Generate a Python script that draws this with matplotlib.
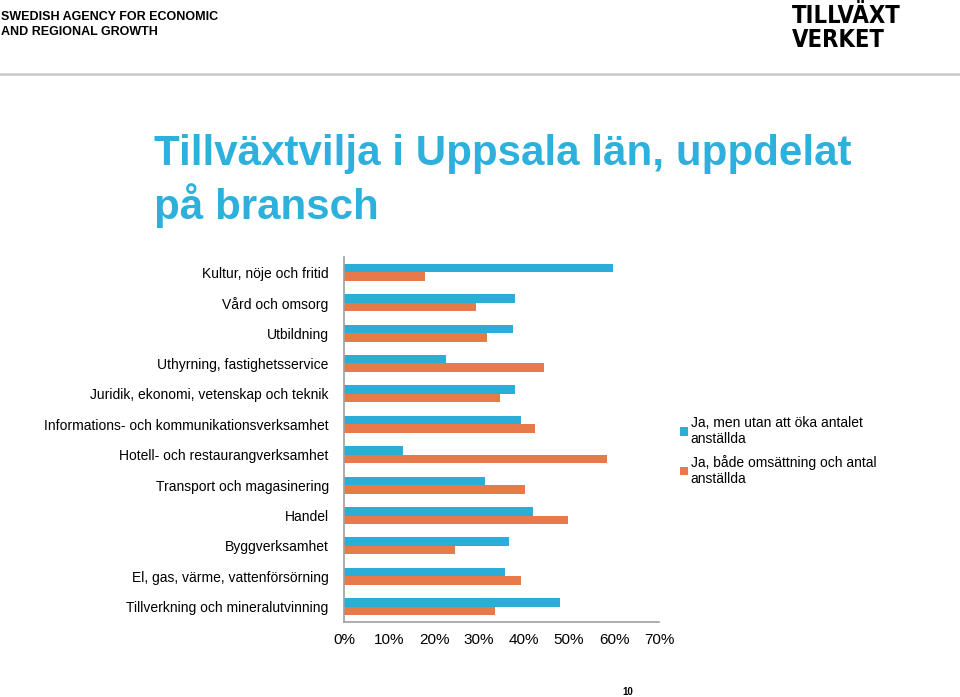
import numpy as np
import matplotlib
matplotlib.use('Agg')
import matplotlib.pyplot as plt
from matplotlib.lines import Line2D

plt.rcParams['font.family'] = ['Liberation Sans', 'DejaVu Sans']

branscher = ["Kultur, nöje och fritid",
             "Vård och omsorg",
             "Utbildning",
             "Uthyrning, fastighetsservice",
             "Juridik, ekonomi, vetenskap och teknik",
             "Informations- och kommunikationsverksamhet",
             "Hotell- och restaurangverksamhet",
             "Transport och magasinering",
             "Handel",
             "Byggverksamhet",
             "El, gas, värme, vattenförsörning",
             "Tillverkning och mineralutvinning"]

utan_anst = [59.8, 38.1, 37.6, 22.7, 38.0, 39.4, 13.0, 31.3, 41.9, 36.7, 35.8, 47.9]
med_anst = [18.1, 29.3, 31.7, 44.4, 34.7, 42.4, 58.4, 40.2, 49.7, 24.7, 39.4, 33.5]

serie_namn = ["Ja, men utan att öka antalet\nanställda",
              "Ja, både omsättning och antal\nanställda"]

blue = '#2BADD8'
orange = '#E8794B'
W, H = 960, 697

fig = plt.figure(figsize=(9.6, 6.97), dpi=100)

# header
fig.text(1/W, 1 - 17/H, "SWEDISH AGENCY FOR ECONOMIC", fontsize=9, fontweight='bold', va='center')
fig.text(1/W, 1 - 32/H, "AND REGIONAL GROWTH", fontsize=9, fontweight='bold', va='center')
# logo as text
fig.text(792/W, 1 - 28/H, "TILLVÄXT\nVERKET", fontsize=17, fontweight='bold', va='center',
         family='DejaVu Sans', fontstretch='condensed', linespacing=0.95)
fig.add_artist(Line2D([0, 1], [1 - 74/H, 1 - 74/H], color='#C8C8C8', lw=1.8,
                      transform=fig.transFigure))

# title
fig.text(154/W, 1 - 154/H, "Tillväxtvilja i Uppsala län, uppdelat", fontsize=30.3,
         fontweight='bold', color='#2EB0DD', va='center')
fig.text(154/W, 1 - 206/H, "på bransch", fontsize=30.3, fontweight='bold',
         color='#2EB0DD', va='center')

ax = fig.add_axes([344/W, 1 - 622/H, (659 - 344)/W, (622 - 257)/H])
y = np.arange(len(branscher))
h = 0.28
ax.barh(y - h/2, utan_anst, height=h, color=blue, label=serie_namn[0])
ax.barh(y + h/2, med_anst, height=h, color=orange, label=serie_namn[1])
ax.set_ylim(11.5, -0.5)
ax.set_xlim(0, 70)
ax.set_yticks(y)
ax.set_yticklabels(branscher, fontsize=10)
ax.set_xticks(np.arange(0, 71, 10))
ax.set_xticklabels([f"{v}%" for v in range(0, 71, 10)], fontsize=11)
ax.tick_params(length=0)
ax.tick_params(axis='x', pad=8)
ax.tick_params(axis='y', pad=11)
for s in ['top', 'right']:
    ax.spines[s].set_visible(False)
for s in ['left', 'bottom']:
    ax.spines[s].set_color('#A0A0A0')
    ax.spines[s].set_linewidth(1.2)

ax.legend(loc='upper left', bbox_to_anchor=(667/W, 1 - 403/H), bbox_transform=fig.transFigure,
          frameon=False, fontsize=10, handlelength=0.6, handleheight=0.6,
          handletextpad=0.2, labelspacing=0.65)

fig.text(628/W, 1 - 692/H, "10", fontsize=7, fontweight='bold', ha='center', va='center')

fig.savefig('out.png', dpi=100)
